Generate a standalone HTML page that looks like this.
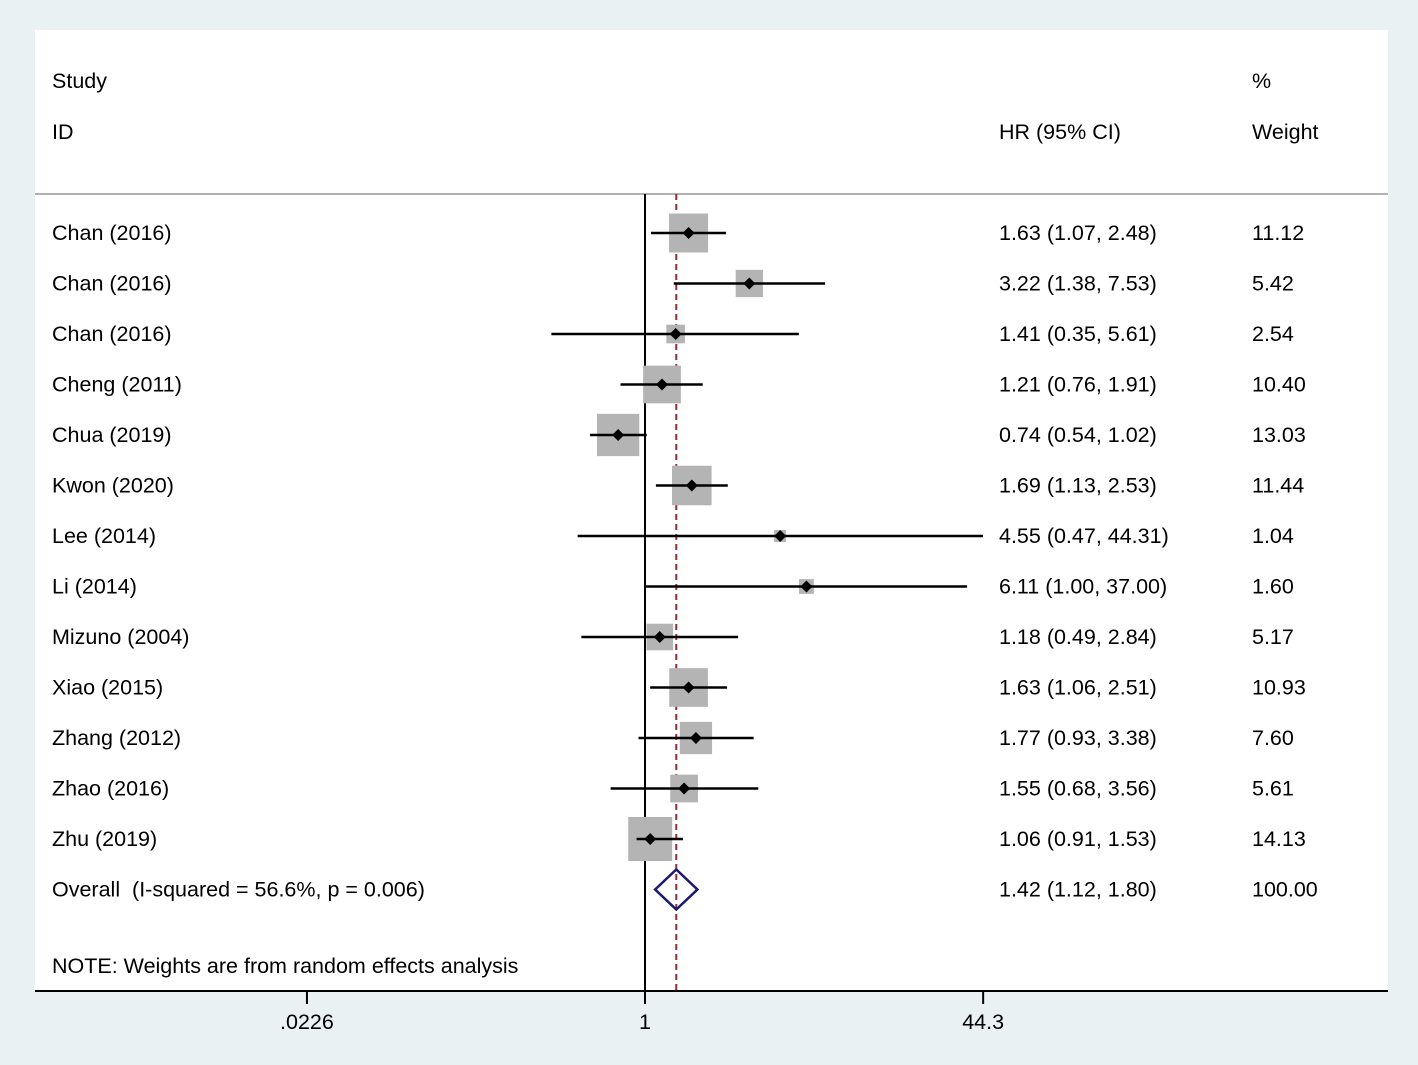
<!DOCTYPE html>
<html><head><meta charset="utf-8"><style>
body{margin:0;background:#eaf1f3;}
svg{display:block;font-family:"Liberation Sans",Arial,sans-serif;}
</style></head><body>
<svg id="chart" width="1418" height="1065">
<rect x="35" y="30" width="1353" height="960" fill="#fff"/>
<g id="g"></g>
</svg>
<script>
const studies=["Chan (2016)","Chan (2016)","Chan (2016)","Cheng (2011)","Chua (2019)","Kwon (2020)","Lee (2014)","Li (2014)","Mizuno (2004)","Xiao (2015)","Zhang (2012)","Zhao (2016)","Zhu (2019)"];
const hr=[1.63,3.22,1.41,1.21,0.74,1.69,4.55,6.11,1.18,1.63,1.77,1.55,1.06];
const lo=[1.07,1.38,0.35,0.76,0.54,1.13,0.47,1.00,0.49,1.06,0.93,0.68,0.91];
const hi=[2.48,7.53,5.61,1.91,1.02,2.53,44.31,37.00,2.84,2.51,3.38,3.56,1.53];
const weights=["11.12","5.42","2.54","10.40","13.03","11.44","1.04","1.60","5.17","10.93","7.60","5.61","14.13"];
const overall=[1.42,1.12,1.80];
const ticks=[0.0226,1,44.3];
const tickLabels=[".0226","1","44.3"];
const NS="http://www.w3.org/2000/svg";
const g=document.getElementById('g');
const X=v=>645+Math.log(v)*89.2;
const Y=i=>233+i*50.5;
function mk(t,a,txt){const e=document.createElementNS(NS,t);for(const k in a)e.setAttribute(k,a[k]);if(txt!==undefined)e.textContent=txt;g.appendChild(e);return e;}
function tx(x,y,s,anchor){const e=mk('text',{x:x,y:y+1.5,'font-size':21.5,fill:'#000','text-anchor':anchor||'start','dominant-baseline':'middle'},s);e.setAttribute('xml:space','preserve');e.style.whiteSpace='pre';return e;}
let e;
e=tx(52,81,"Study");
e=tx(52,132,"ID");
e=tx(999,132,"HR (95% CI)");
e=tx(1252,81,"%");
e=tx(1252,132,"Weight");
e=mk('line',{x1:35,x2:1388,y1:194,y2:194,stroke:'#b0b0b0','stroke-width':2});

e=mk('line',{x1:X(1),x2:X(1),y1:194,y2:990,stroke:'#000','stroke-width':2});

e=mk('line',{x1:X(overall[0]),x2:X(overall[0]),y1:194,y2:990,stroke:'#a0282d','stroke-width':2,'stroke-dasharray':'6,4'});

studies.forEach((s,i)=>{
 const y=Y(i),w=parseFloat(weights[i]),side=Math.sqrt(w)*11.7;
 e=mk('rect',{x:X(hr[i])-side/2,y:y-side/2,width:side,height:side,fill:'#b4b4b4'});
 
 e=mk('line',{x1:X(lo[i]),x2:Math.min(X(hi[i]),983),y1:y,y2:y,stroke:'#000','stroke-width':2.5});
 
 const cx=X(hr[i]);
 e=mk('polygon',{points:`${cx-6},${y} ${cx},${y-6} ${cx+6},${y} ${cx},${y+6}`,fill:'#000'});
 
 e=tx(52,y,s);
 e=tx(999,y,`${hr[i].toFixed(2)} (${lo[i].toFixed(2)}, ${hi[i].toFixed(2)})`);
 
 e=tx(1252,y,weights[i]);
});
const oy=Y(studies.length);
e=mk('polygon',{points:`${X(overall[1])},${oy} ${X(overall[0])},${oy-20} ${X(overall[2])},${oy} ${X(overall[0])},${oy+20}`,fill:'none',stroke:'#1a1a6e','stroke-width':2.5});

e=tx(52,oy,"Overall  (I-squared = 56.6%, p = 0.006)");
e=tx(999,oy,`${overall[0].toFixed(2)} (${overall[1].toFixed(2)}, ${overall[2].toFixed(2)})`);
e=tx(1252,oy,"100.00");
e=tx(52,966,"NOTE: Weights are from random effects analysis");
e=mk('line',{x1:35,x2:1388,y1:991,y2:991,stroke:'#000','stroke-width':2});

ticks.forEach((t,i)=>{
 e=mk('line',{x1:X(t),x2:X(t),y1:991,y2:1004,stroke:'#000','stroke-width':2});
 
 e=tx(X(t),1022,tickLabels[i],'middle');
});
</script>
</body></html>
